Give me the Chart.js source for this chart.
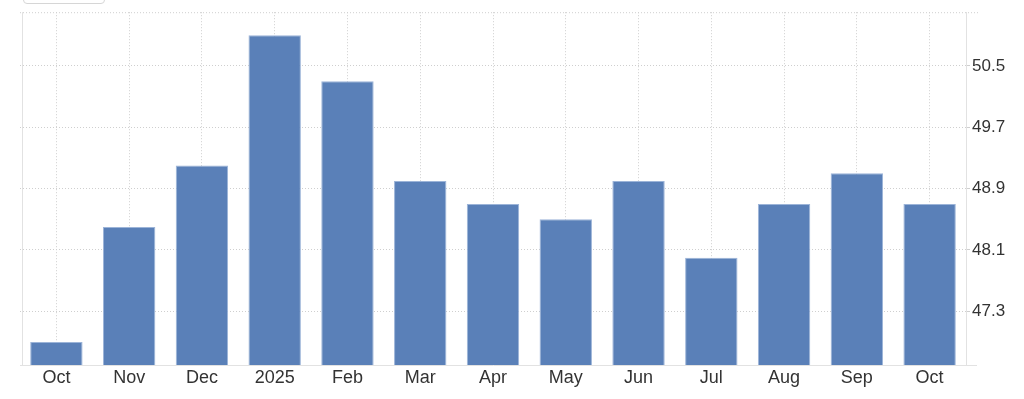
<!DOCTYPE html>
<html>
<head>
<meta charset="utf-8">
<script src="https://cdn.jsdelivr.net/npm/chart.js@4/dist/chart.umd.min.js"></script>
<style>
    html, body { margin:0; padding:0; background:#fff; }
    #wrap { position:relative; width:1024px; height:399px; overflow:hidden; }
    #chart { display:block; }
    .tab { position:absolute; left:23px; top:-12px; width:80px; height:14px;
           border:1px solid #d6d6d6; border-radius:4px; background:#fff; }
</style>
</head>
<body>
<div id="wrap">
    <canvas id="chart" width="1024" height="399"></canvas>
    <div class="tab"></div>
</div>
<script>
const months = ["Oct","Nov","Dec","2025","Feb","Mar","Apr","May","Jun","Jul","Aug","Sep","Oct"];
const pmi = [46.9, 48.4, 49.2, 50.9, 50.3, 49.0, 48.7, 48.5, 49.0, 48.0, 48.7, 49.1, 48.7];
const yTicks = [47.3, 48.1, 48.9, 49.7, 50.5];

const gridColor = "#cfcfcf";
const axisColor = "#e2e2e2";

// top + left frame of the plot area
const frame = {
    id:"frame",
    beforeDatasetsDraw(c){
        const a = c.chartArea, ctx = c.ctx;
        ctx.save();
        ctx.strokeStyle = gridColor;
        ctx.lineWidth = 1;
        ctx.setLineDash([1,2]);
        ctx.beginPath();
        ctx.moveTo(a.left, a.top + 0.5);
        ctx.lineTo(a.right + 12, a.top + 0.5);
        ctx.stroke();
        ctx.setLineDash([]);
        ctx.strokeStyle = axisColor;
        ctx.beginPath();
        ctx.moveTo(a.left + 2.5, a.top);
        ctx.lineTo(a.left + 2.5, a.bottom);
        ctx.moveTo(a.right, a.bottom + 0.5);
        ctx.lineTo(a.right + 11, a.bottom + 0.5);
        ctx.stroke();
        ctx.restore();
    }
};

new Chart(document.getElementById("chart"), {
    type:"bar",
    data:{
        labels: months,
        datasets:[{
            data: pmi,
            backgroundColor:"#5a80b8",
            borderColor:"#9cb4d8",
            borderWidth:1,
            barPercentage:0.72,
            categoryPercentage:1
        }]
    },
    options:{
        responsive:false,
        animation:false,
        layout:{ padding:{ left:20, top:10, right:0, bottom:0 } },
        plugins:{ legend:{ display:false }, tooltip:{ enabled:false } },
        scales:{
            x:{
                offset:true,
                grid:{ offset:false, color:gridColor, drawTicks:false },
                border:{ color:axisColor, dash:[1,2] },
                ticks:{ color:"#333", padding:2, font:{ family:"Liberation Sans, Arial, sans-serif", size:18 }, maxRotation:0, autoSkip:false },
                afterFit(s){ s.height = 34; }
            },
            y:{
                position:"right",
                min:46.6,
                max:51.2,
                afterBuildTicks(s){ s.ticks = yTicks.map(v => ({ value:v })); },
                grid:{ color:gridColor, tickLength:4, tickColor:gridColor },
                border:{ color:axisColor, dash:[1,2] },
                ticks:{
                    color:"#333",
                    padding:2,
                    font:{ family:"Liberation Sans, Arial, sans-serif", size:17 },
                    callback:v => v.toFixed(1)
                },
                afterFit(s){ s.width = 58; }
            }
        }
    },
    plugins:[frame]
});
</script>
</body>
</html>
